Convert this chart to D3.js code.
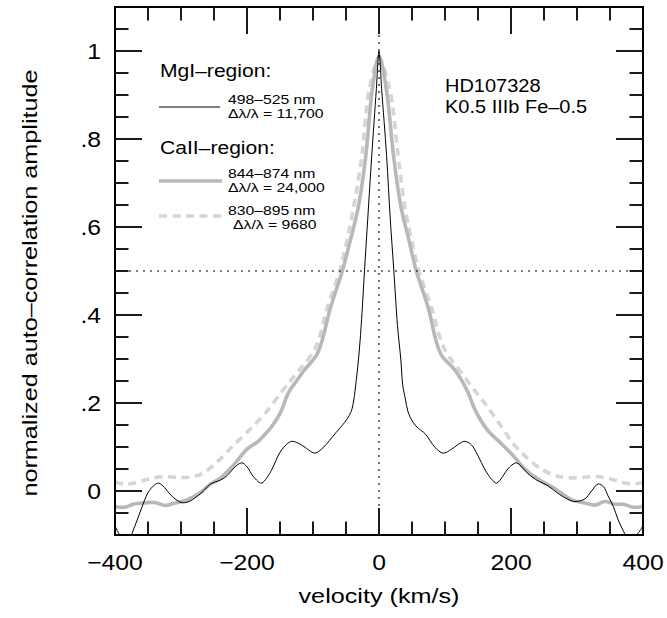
<!DOCTYPE html>
<html lang="en">
<head>
  <meta charset="UTF-8">
  <title>HD107328 auto-correlation</title>
  <script src="https://d3js.org/d3.v7.min.js"></script>
  <style>
    body {
      margin: 0;
      padding: 0;
      background: #fff;
    }
    svg text {
      font-family: "Liberation Sans", Arial, sans-serif;
      fill: #000;
    }
  </style>
</head>
<body>
  <div id="chart"></div>

  <script>
    // MgI region, 498-525 nm (thin black)
    const mgVel = [-400, -390, -380, -370, -360, -350, -340, -334, -325, -315, -300, -290, -280, -268, -255, -240, -230, -220, -208, -200,
      -190, -178, -170, -162, -150, -140, -132, -120, -110, -97, -85, -75, -65, -52, -45, -41, -38, -36, -31, -27,
      -22, -17, -11, -4, 0, 4, 11.5, 17, 22.5, 28, 33, 36, 40, 44, 52, 60, 70, 85, 97, 110,
      120, 130, 140, 150, 160, 170, 178, 187, 195, 208, 218, 226, 241, 256, 270, 285, 297, 312, 322, 332,
      340, 347, 355, 362, 370, 378, 390, 400];
    const mgAmp = [-0.079, -0.105, -0.11, -0.08, -0.04, -0.004, 0.014, 0.018, 0.008, -0.010, -0.026, -0.025, -0.017, -0.003, 0.016, 0.025, 0.035, 0.052, 0.064, 0.055,
      0.032, 0.018, 0.030, 0.050, 0.088, 0.106, 0.113, 0.107, 0.097, 0.086, 0.098, 0.115, 0.133, 0.156, 0.172, 0.186, 0.209, 0.232, 0.300, 0.376,
      0.500, 0.620, 0.762, 0.914, 1.0, 0.914, 0.762, 0.620, 0.500, 0.376, 0.300, 0.240, 0.209, 0.180, 0.155, 0.142, 0.130, 0.099, 0.086, 0.095,
      0.106, 0.113, 0.105, 0.080, 0.050, 0.028, 0.018, 0.032, 0.050, 0.064, 0.052, 0.039, 0.023, 0.012, -0.004, -0.018, -0.024, -0.018, 0.000, 0.016,
      0.010, -0.011, -0.035, -0.064, -0.090, -0.110, -0.100, -0.079];

    // CaII region, 844-874 nm (thick grey)
    const caVel = [-400, -385, -372, -355, -340, -324, -309, -294, -274, -256, -240, -221, -200, -183, -175, -165, -150, -137, -125, -112,
      -95, -87, -74, -55, -43, -31, -20, -10, 0, 11, 22, 33, 45, 56, 75, 87, 95, 114, 125, 135,
      145, 165, 181, 201, 221, 241, 267, 292, 312, 327, 342, 357, 370, 385, 400];
    const caAmp = [-0.035, -0.037, -0.030, -0.027, -0.026, -0.033, -0.027, -0.022, -0.007, 0.015, 0.030, 0.058, 0.095, 0.113, 0.125, 0.142, 0.176, 0.224, 0.250, 0.277,
      0.308, 0.338, 0.414, 0.503, 0.572, 0.648, 0.762, 0.914, 0.988, 0.914, 0.762, 0.648, 0.572, 0.503, 0.414, 0.338, 0.308, 0.277, 0.252, 0.224,
      0.186, 0.137, 0.114, 0.084, 0.050, 0.027, 0.005, -0.020, -0.027, -0.032, -0.024, -0.030, -0.030, -0.037, -0.035];

    // CaII region, 830-895 nm (dashed light grey)
    const caLowVel = [-400, -385, -370, -350, -324, -300, -280, -265, -246, -221, -195, -170, -147, -130, -117, -100, -90, -79, -59, -38,
      -26, -14.6, 0, 16, 29, 39, 60, 80, 92, 103, 118, 140, 160, 181, 206, 226, 246, 267, 287, 307,
      327, 347, 368, 388, 400];
    const caLowAmp = [0.020, 0.016, 0.018, 0.027, 0.033, 0.030, 0.033, 0.042, 0.065, 0.103, 0.141, 0.181, 0.226, 0.258, 0.282, 0.315, 0.350, 0.414, 0.503, 0.648,
      0.762, 0.914, 0.982, 0.914, 0.762, 0.648, 0.503, 0.414, 0.350, 0.312, 0.283, 0.238, 0.200, 0.156, 0.103, 0.073, 0.050, 0.035, 0.030, 0.031,
      0.033, 0.029, 0.020, 0.016, 0.020];

    const xTicks = [-400, -200, 0, 200, 400];
    const xTickLabels = ["\u2212400", "\u2212200", "0", "200", "400"];
    const yTicks = [0, 0.2, 0.4, 0.6, 0.8, 1];
    const yTickLabels = ["0", ".2", ".4", ".6", ".8", "1"];

    const W = 667, H = 618;
    const margin = { top: 7, right: 24, bottom: 83, left: 115 };
    const width = W - margin.left - margin.right;
    const height = H - margin.top - margin.bottom;

    // the original figure is stretched sideways, so text is widened a bit
    const SX = 1.15;

    const svg = d3.select("#chart")
      .append("svg")
      .attr("width", W)
      .attr("height", H);

    svg.append("defs").append("clipPath").attr("id", "plot")
      .append("rect").attr("width", width).attr("height", height);

    const g = svg.append("g")
      .attr("transform", `translate(${margin.left},${margin.top})`);

    const x = d3.scaleLinear().domain([-400, 400]).range([0, width]);
    const y = d3.scaleLinear().domain([-0.1, 1.1]).range([height, 0]);

    // tick labels
    g.append("g").selectAll("text").data(xTicks).join("text")
      .attr("transform", d => `translate(${x(d)},${height + 35}) scale(${SX},1)`)
      .attr("text-anchor", "middle")
      .attr("font-size", 21.5)
      .text((d, i) => xTickLabels[i]);
    g.append("g").selectAll("text").data(yTicks).join("text")
      .attr("transform", d => `translate(-14,${y(d)}) scale(${SX},1)`)
      .attr("dy", "0.36em")
      .attr("text-anchor", "end")
      .attr("font-size", 21.5)
      .text((d, i) => yTickLabels[i]);

    const line = d3.line()
      .x(d => x(d[0]))
      .y(d => y(d[1]))
      .curve(d3.curveCatmullRom.alpha(0.5));

    const curves = g.append("g").attr("clip-path", "url(#plot)");

    curves.append("path")
      .datum(d3.zip(caLowVel, caLowAmp))
      .attr("fill", "none")
      .attr("stroke", "#d5d5d5")
      .attr("stroke-width", 3.6)
      .attr("stroke-dasharray", "8,5.5")
      .attr("d", line);

    curves.append("path")
      .datum(d3.zip(caVel, caAmp))
      .attr("fill", "none")
      .attr("stroke", "#b8b8b8")
      .attr("stroke-width", 3.6)
      .attr("d", line);

    curves.append("path")
      .datum(d3.zip(mgVel, mgAmp))
      .attr("fill", "none")
      .attr("stroke", "#000")
      .attr("stroke-width", 1)
      .attr("d", line);

    // dotted reference lines at v = 0 and amplitude 0.5
    g.append("line")
      .attr("x1", x(0)).attr("x2", x(0))
      .attr("y1", 0).attr("y2", height)
      .attr("stroke", "#000").attr("stroke-width", 1.1)
      .attr("stroke-dasharray", "2,5");
    g.append("line")
      .attr("x1", 0).attr("x2", width)
      .attr("y1", y(0.5)).attr("y2", y(0.5))
      .attr("stroke", "#000").attr("stroke-width", 1.1)
      .attr("stroke-dasharray", "2,5");

    g.append("rect")
      .attr("width", width).attr("height", height)
      .attr("fill", "none").attr("stroke", "#000").attr("stroke-width", 2);

    // tick marks on all four sides, pointing inward (major 27px, minor 13.5px)
    const xAll = d3.range(-350, 400, 50);
    const yAll = d3.range(-1, 22).map(i => +(i * 0.05).toFixed(2));
    const isMajorX = v => Math.round(Math.abs(v)) % 200 === 0;
    const isMajorY = v => Math.abs(v * 5 - Math.round(v * 5)) < 1e-6;
    const tickLen = major => major ? 27 : 13.5;
    const TW = 2;
    const tickColor = "#1a1a1a";

    const ticks = g.append("g");
    ticks.selectAll(".tb").data(xAll).join("rect").attr("class", "tb")
      .attr("fill", tickColor)
      .attr("x", d => x(d) - TW / 2).attr("width", TW)
      .attr("y", d => height - tickLen(isMajorX(d))).attr("height", d => tickLen(isMajorX(d)));
    ticks.selectAll(".tt").data(xAll).join("rect").attr("class", "tt")
      .attr("fill", tickColor)
      .attr("x", d => x(d) - TW / 2).attr("width", TW)
      .attr("y", 0).attr("height", d => tickLen(isMajorX(d)));
    ticks.selectAll(".tl").data(yAll).join("rect").attr("class", "tl")
      .attr("fill", tickColor)
      .attr("y", d => y(d) - TW / 2).attr("height", TW)
      .attr("x", 0).attr("width", d => tickLen(isMajorY(d)));
    ticks.selectAll(".tr").data(yAll).join("rect").attr("class", "tr")
      .attr("fill", tickColor)
      .attr("y", d => y(d) - TW / 2).attr("height", TW)
      .attr("x", d => width - tickLen(isMajorY(d))).attr("width", d => tickLen(isMajorY(d)));

    // legend and star label
    const label = (px, py, size, sx, str) => svg.append("text")
      .attr("transform", `translate(${px},${py}) scale(${sx},1)`)
      .attr("font-size", size)
      .text(str);

    label(160, 77, 18.5, 1.14, "MgI\u2013region:");
    svg.append("line").attr("x1", 159).attr("x2", 220).attr("y1", 107).attr("y2", 107)
      .attr("stroke", "#000").attr("stroke-width", 1);
    label(228, 104, 12.5, 1.26, "498\u2013525 nm");
    label(228, 118, 12.5, 1.26, "\u0394\u03bb/\u03bb = 11,700");

    label(160, 154, 18.5, 1.14, "CaII\u2013region:");
    svg.append("line").attr("x1", 159).attr("x2", 222).attr("y1", 181).attr("y2", 181)
      .attr("stroke", "#b8b8b8").attr("stroke-width", 3.6);
    label(228, 178, 12.5, 1.26, "844\u2013874 nm");
    label(228, 192, 12.5, 1.26, "\u0394\u03bb/\u03bb = 24,000");
    svg.append("line").attr("x1", 159).attr("x2", 222).attr("y1", 216).attr("y2", 216)
      .attr("stroke", "#d5d5d5").attr("stroke-width", 3.6).attr("stroke-dasharray", "8,5.5");
    label(228, 215, 12.5, 1.26, "830\u2013895 nm");
    label(233, 229, 12.5, 1.26, "\u0394\u03bb/\u03bb = 9680");

    label(445, 92, 18.5, 1.08, "HD107328");
    label(445, 113, 18.5, 1.08, "K0.5 IIIb Fe\u20130.5");

    // axis titles
    svg.append("text")
      .attr("transform", `translate(${margin.left + width / 2},603) scale(1.2,1)`)
      .attr("text-anchor", "middle")
      .attr("font-size", 21)
      .text("velocity (km/s)");
    svg.append("text")
      .attr("transform", `translate(37,283) rotate(-90) scale(1.2,1)`)
      .attr("text-anchor", "middle")
      .attr("font-size", 21)
      .text("normalized auto\u2013correlation amplitude");
  </script>
</body>
</html>
